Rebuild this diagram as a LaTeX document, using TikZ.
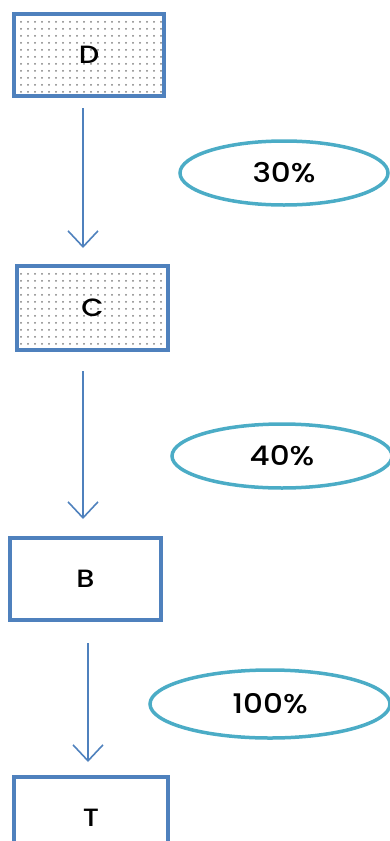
\documentclass[tikz,border=0pt]{standalone}
\usepackage{fontspec}
\setmainfont{Poppins}
\newfontfamily\labelfont{Poppins Medium}[FakeStretch=1.15]
\usepackage{tikz}
\usetikzlibrary{arrows.meta, patterns.meta, shapes.geometric}

\definecolor{boxblue}{RGB}{79,129,189}
\definecolor{ringblue}{RGB}{75,172,198}

\begin{document}
\begin{tikzpicture}[%
  x=1pt, y=-1pt,
  level/.style={draw=boxblue, line width=4pt, minimum width=150pt,
    minimum height=82pt, font=\labelfont\fontsize{25}{28}\selectfont},
  dotted fill/.style={preaction={fill=white},
    pattern={Dots[distance=7pt, radius=1pt]}, pattern color=gray},
  share/.style={ellipse, draw=ringblue, line width=3.5pt,
    minimum width=208pt, minimum height=64pt, font=\labelfont\fontsize{27}{30}\selectfont},
  flow/.style={draw=boxblue, line width=1.6pt,
    -{Straight Barb[length=16pt, width=30pt, line width=1.6pt]}}]

  \clip (0,0) rectangle (390,841);

  \node [level, dotted fill] (D) at (89,55) {D};
  \node [level, dotted fill, minimum width=151pt, minimum height=84pt] (C) at (92.5,308) {C};
  \node [level, minimum width=151pt] (B) at (85.5,579) {B};
  \node [level, minimum width=154pt] (T) at (91,818) {T};

  \node [share] (dc) at (284,173) {30\%};
  \node [share, minimum width=220pt] (cb) at (282,456) {40\%};
  \node [share, minimum width=240pt, minimum height=68pt] (bt) at (270,704) {100\%};

  % arrows between levels
  \draw [flow, shorten <=10pt, shorten >=16pt]
    ([xshift=-6pt]D.south) -- ([xshift=-6pt]D.south |- C.north);
  \draw [flow, shorten <=19pt, shorten >=17pt]
    ([xshift=-9.5pt]C.south) -- ([xshift=-9.5pt]C.south |- B.north);
  \draw [flow, shorten <=21pt, shorten >=13pt]
    ([xshift=2.5pt]B.south) -- ([xshift=2.5pt]B.south |- T.north);
\end{tikzpicture}
\end{document}
